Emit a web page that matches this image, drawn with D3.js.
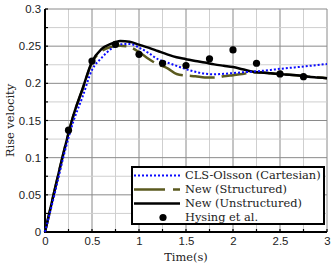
<!DOCTYPE html>
<html>
<head>
<meta charset="utf-8">
<script src="https://cdn.jsdelivr.net/npm/d3@7"></script>
<style>
    body { margin: 0; background: #fff; }
    svg { display: block; font-family: "DejaVu Serif", "Liberation Serif", serif; }
</style>
</head>
<body>
<svg id="chart" width="334" height="266"></svg>
<script>
// --- data ---
const timeS = [0, 0.1, 0.2, 0.3, 0.4, 0.5, 0.6, 0.7, 0.8, 0.9, 1.0, 1.1, 1.2, 1.3, 1.4, 1.5,
    1.6, 1.7, 1.8, 1.9, 2.0, 2.1, 2.2, 2.3, 2.4, 2.5, 2.6, 2.7, 2.8, 2.9, 3.0];
const clsOlsson = [0, 0.05, 0.103, 0.148, 0.182, 0.218, 0.234, 0.246, 0.2525, 0.253, 0.248, 0.241,
    0.2325, 0.228, 0.2235, 0.219, 0.2155, 0.213, 0.2122, 0.2128, 0.2138, 0.2148, 0.2157, 0.2167,
    0.218, 0.2195, 0.2208, 0.222, 0.2233, 0.2247, 0.226];
const newStructured = [0, 0.055, 0.108, 0.156, 0.192, 0.228, 0.243, 0.249, 0.2505, 0.249, 0.242, 0.233,
    0.2255, 0.2205, 0.2125, 0.2105, 0.2095, 0.208, 0.2077, 0.2095, 0.211, 0.2125, 0.2145, 0.2145,
    0.2135, 0.2125, 0.2115, 0.2105, 0.209, 0.208, 0.207];
const newUnstructured = [0, 0.055, 0.108, 0.156, 0.193, 0.229, 0.246, 0.253, 0.257, 0.256, 0.252, 0.248,
    0.2435, 0.239, 0.235, 0.2325, 0.23, 0.228, 0.2255, 0.2237, 0.222, 0.219, 0.216, 0.2145,
    0.2135, 0.2125, 0.2115, 0.2105, 0.209, 0.208, 0.207];
const hysingT = [0.25, 0.5, 0.75, 1.0, 1.25, 1.5, 1.75, 2.0, 2.25, 2.5, 2.75];
const hysingV = [0.137, 0.23, 0.2525, 0.239, 0.227, 0.224, 0.233, 0.245, 0.227, 0.2127, 0.209];
const xTicks = [0, 0.5, 1, 1.5, 2, 2.5, 3];
const yTicks = [0, 0.05, 0.1, 0.15, 0.2, 0.25, 0.3];
const legendLabels = ["CLS-Olsson (Cartesian)", "New (Structured)", "New (Unstructured)", "Hysing et al."];

const margin = { top: 9, right: 7, bottom: 34, left: 45 };
const width = 334 - margin.left - margin.right;
const height = 266 - margin.top - margin.bottom;
const fontSize = 11.4;

const svg = d3.select("#chart");
const g = svg.append("g").attr("transform", `translate(${margin.left},${margin.top})`);

const x = d3.scaleLinear().domain([0, 3]).range([0, width]);
const y = d3.scaleLinear().domain([0, 0.3]).range([height, 0]);

// grid: minor every 0.25 / 0.025, major on the labelled ticks
const minorX = d3.range(0, 3.001, 0.25);
const minorY = d3.range(0, 0.3001, 0.025);
g.append("g").selectAll("line").data(minorX).join("line")
    .attr("x1", d => x(d)).attr("x2", d => x(d)).attr("y1", 0).attr("y2", height)
    .attr("stroke", d => Math.abs(d * 2 - Math.round(d * 2)) < 1e-6 ? "#8a8a8a" : "#cfcfcf")
    .attr("stroke-width", 1);
g.append("g").selectAll("line").data(minorY).join("line")
    .attr("y1", d => y(d)).attr("y2", d => y(d)).attr("x1", 0).attr("x2", width)
    .attr("stroke", d => Math.abs(d * 20 - Math.round(d * 20)) < 1e-6 ? "#8a8a8a" : "#cfcfcf")
    .attr("stroke-width", 1);

// axes
const xAxis = g.append("g").attr("transform", `translate(0,${height})`)
    .call(d3.axisBottom(x).tickValues(xTicks).tickSize(0).tickPadding(5).tickFormat(d3.format("")));
const yAxis = g.append("g")
    .call(d3.axisLeft(y).tickValues(yTicks).tickSize(0).tickPadding(4).tickFormat(d3.format("")));
[xAxis, yAxis].forEach(a => {
    a.select(".domain").remove();
    a.selectAll("text").attr("font-family", null).attr("font-size", fontSize).attr("fill", "#222");
});

// inward tick marks
g.append("g").selectAll("line").data(minorX).join("line")
    .attr("x1", d => x(d)).attr("x2", d => x(d)).attr("y1", height).attr("y2", height - 3)
    .attr("stroke", "#000").attr("stroke-width", 1.2);
g.append("g").selectAll("line").data(minorY).join("line")
    .attr("y1", d => y(d)).attr("y2", d => y(d)).attr("x1", 0).attr("x2", 3)
    .attr("stroke", "#000").attr("stroke-width", 1.2);

g.append("line").attr("x1", 0).attr("x2", 0).attr("y1", 0).attr("y2", height + 1)
    .attr("stroke", "#000").attr("stroke-width", 2);
g.append("line").attr("x1", -1).attr("x2", width).attr("y1", height).attr("y2", height)
    .attr("stroke", "#000").attr("stroke-width", 2);

// axis titles
svg.append("text")
    .attr("transform", `translate(11,${margin.top + height / 2}) rotate(-90)`)
    .attr("text-anchor", "middle").attr("dominant-baseline", "middle")
    .attr("font-size", fontSize).attr("fill", "#222").text("Rise velocity");
svg.append("text")
    .attr("x", margin.left + width / 2).attr("y", 261)
    .attr("text-anchor", "middle").attr("font-size", fontSize).attr("fill", "#222").text("Time(s)");

// curves
const styles = [
    { color: "#0a0aff", width: 2, dash: "2,2" },
    { color: "#5b5a1f", width: 2.5, dash: "25,7" },
    { color: "#000", width: 2.5, dash: null }
];
const series = [clsOlsson, newStructured, newUnstructured];
const line = d3.line().x((d, i) => x(timeS[i])).y(d => y(d)).curve(d3.curveMonotoneX);

[1, 2, 0].forEach(k => {
    g.append("path").datum(series[k])
        .attr("d", line)
        .attr("fill", "none")
        .attr("stroke", styles[k].color)
        .attr("stroke-width", styles[k].width)
        .attr("stroke-dasharray", styles[k].dash);
});

g.append("g").selectAll("circle").data(hysingV).join("circle")
    .attr("cx", (d, i) => x(hysingT[i])).attr("cy", d => y(d)).attr("r", 3.6)
    .attr("fill", "#000");

// legend
const legend = svg.append("g").attr("transform", "translate(132,167)");
legend.append("rect").attr("width", 192).attr("height", 57)
    .attr("fill", "#fff").attr("stroke", "#000").attr("stroke-width", 2);
legendLabels.forEach((label, i) => {
    const ly = 8.5 + i * 14;
    if (i < 3) {
        legend.append("line").attr("x1", 2).attr("x2", 48).attr("y1", ly).attr("y2", ly)
            .attr("stroke", styles[i].color).attr("stroke-width", styles[i].width)
            .attr("stroke-dasharray", i === 1 ? "31,8" : styles[i].dash);
    } else {
        legend.append("circle").attr("cx", 31).attr("cy", ly).attr("r", 3.6).attr("fill", "#000");
    }
    legend.append("text").attr("x", 53).attr("y", ly).attr("dy", "0.35em")
        .attr("font-size", fontSize).attr("fill", "#222").text(label);
});
</script>
</body>
</html>
